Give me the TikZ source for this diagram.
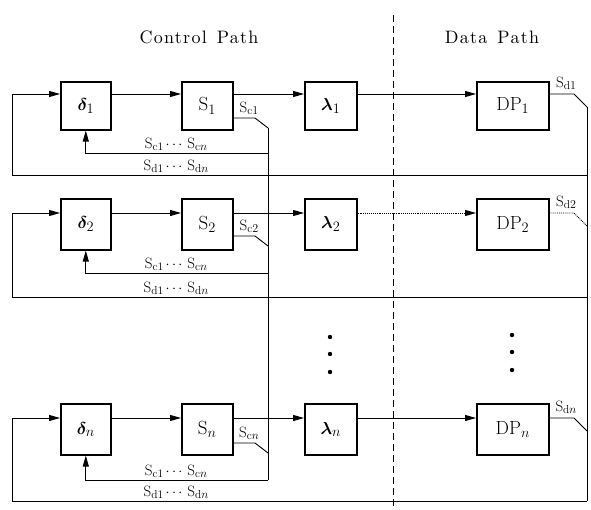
\documentclass[tikz,border=0pt]{standalone}
\usepackage{fontspec}
\usepackage{amsmath}
\usepackage{bm}
\usetikzlibrary{arrows.meta}

% spaced face for the two headings
\newfontfamily\headfont{lmroman10-regular}[Extension=.otf, LetterSpace=7]
% signal name: upright S with a lowered, smaller index
\newcommand{\sg}[1]{S\raisebox{-1.8pt}{\fontsize{11.5}{12}\selectfont #1}}

\tikzset{
  blk/.style={draw, line width=1.6pt, inner sep=0pt, anchor=north west,
              font=\fontsize{19}{21}\selectfont},
  wire/.style={line width=0.9pt},
  arr/.style={wire, -{Triangle[length=11pt,width=6pt]}},
  sig/.style={inner sep=0pt, font=\fontsize{15}{16}\selectfont},
  ttl/.style={inner sep=0pt, font=\headfont\fontsize{18}{20}\selectfont},
  bead/.style={circle, fill, inner sep=0pt, minimum size=4.4pt},
}

\begin{document}
\begin{tikzpicture}[x=1pt,y=-1pt]
\useasboundingbox (0,0) rectangle (591,510);

% headings and the dashed boundary between control and data paths
\node[ttl] (tc) at (199,37) {Control\hspace{10pt}Path};
\node[ttl] (td) at (492,37) {Data\hspace{10pt}Path};
\coordinate (divtop) at (393,15);
\coordinate (divbot) at (393,510);
\draw[line width=0.9pt, dash pattern=on 7pt off 4pt] (divtop) -- (divbot);

% one stage per row: name / box top / box height / signal line / switch line / Sc line / Sd line / style of data link
\foreach \r/\tp/\h/\ya/\ysw/\yc/\yd/\ls in {
    1/81/48/94/118/153/175/solid,
    2/198/51/213/236/273/297/densely dotted,
    n/403/51/418/443/480/501/solid}{
  \node[blk, minimum width=50pt, minimum height=\h pt] (d\r) at (60,\tp) {$\bm{\delta}_{\r}$};
  \node[blk, minimum width=51pt, minimum height=\h pt] (s\r) at (181,\tp) {$\mathrm{S}_{\r}$};
  \node[blk, minimum width=52pt, minimum height=\h pt] (l\r) at (304,\tp) {$\bm{\lambda}_{\r}$};
  \node[blk, minimum width=72pt, minimum height=\h pt] (dp\r) at (476,\tp) {$\mathrm{DP}_{\r}$};

  \coordinate (ya\r) at (0,\ya);
  \coordinate (sw\r) at (0,\ysw);
  \coordinate (L\r) at (12,\yd);
  \coordinate (R\r) at (587,\yd);
  \coordinate (ck\r) at (255,\ysw);
  \coordinate (cs\r) at (268,{\ysw+10});
  \coordinate (cb\r) at (268,\yc);
  \coordinate (dk\r) at (574,\ya);
  \coordinate (ds\r) at (587,{\ya+13});

  % forward chain
  \draw[arr] (L\r) |- (d\r.west |- ya\r);
  \draw[arr] (d\r.east |- ya\r) -- (s\r.west |- ya\r);
  \draw[arr] (s\r.east |- ya\r) -- (l\r.west |- ya\r);
  \draw[arr, \ls] (l\r.east |- ya\r) -- (dp\r.west |- ya\r);

  % status switches onto the buses
  \draw[wire] (s\r.east |- sw\r) -- (ck\r) -- (cs\r);
  \draw[wire, \ls] (dp\r.east |- ya\r) -- (dk\r) -- (ds\r);

  % feedback lines
  \draw[arr] (cb\r) -| (d\r.south);
  \draw[wire] (L\r) -- (R\r);

  % signal names
  \node[sig] (nc\r) at (249,{\ysw-10}) {\sg{c$\r$}};
  \node[sig] (nd\r) at (566,{\ya-11}) {\sg{d$\r$}};
  \node[sig] (bc\r) at (176,{\yc-9}) {\sg{c1}\,$\cdots$\,\sg{c$n$}};
  \node[sig] (bd\r) at (176,{\yd-9}) {\sg{d1}\,$\cdots$\,\sg{d$n$}};
}

% the two vertical buses
\draw[wire] (cs1) -- (cbn);
\draw[wire] (ds1) -- (Rn);

% ellipsis between stage 2 and stage n
\foreach \k/\yy in {a/337, b/354, c/372} {
  \node[bead] (la\k) at (330,\yy) {};
  \node[bead] (da\k) at (512,{\yy-2}) {};
}
\end{tikzpicture}
\end{document}
